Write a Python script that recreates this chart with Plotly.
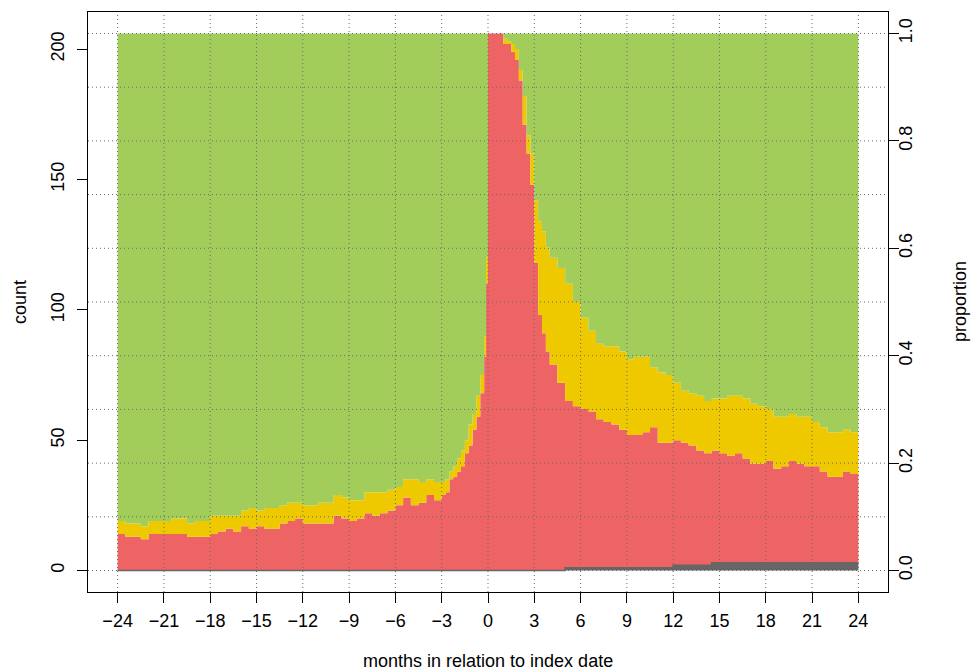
import plotly.graph_objects as go

# months relative to index date (left edge of each step)
months = [-24, -23.5, -23, -22.5, -22, -21.5, -21, -20.5, -20, -19.5, -19, -18.5, -18, -17.5,
          -17, -16.5, -16, -15.5, -15, -14.5, -14, -13.5, -13, -12.5, -12, -11.5, -11, -10.5,
          -10, -9.5, -9, -8.5, -8, -7.5, -7, -6.5, -6, -5.5, -5, -4.5, -4, -3.5, -3,
          -2.75, -2.5, -2.25, -2, -1.75, -1.5, -1.25, -1, -0.75, -0.5, -0.25, -0.125,
          0, 0.25, 0.5, 0.75, 1, 1.25, 1.5, 1.75, 2, 2.25, 2.5, 2.75, 3, 3.25, 3.5, 3.75, 4,
          4.5, 5, 5.5, 6, 6.5, 7, 7.5, 8, 8.5, 9, 9.5, 10, 10.5, 11, 11.5, 12, 12.5, 13, 13.5,
          14, 14.5, 15, 15.5, 16, 16.5, 17, 17.5, 18, 18.5, 19, 19.5, 20, 20.5, 21, 21.5, 22,
          22.5, 23, 23.5, 24]

state_gray = [0, 0, 0, 0, 0, 0, 0, 0, 0, 0, 0, 0, 0, 0, 0, 0, 0, 0, 0, 0, 0, 0, 0, 0,
              0, 0, 0, 0, 0, 0, 0, 0, 0, 0, 0, 0, 0, 0, 0, 0, 0, 0, 0, 0, 0, 0, 0, 0, 0, 0,
              0, 0, 0, 0, 0, 0, 0, 0, 0, 0, 0, 0, 0, 0, 0, 0, 0, 0, 0, 0, 0, 0, 0,
              1, 1, 1, 1, 1, 1, 1, 1, 1, 1, 1, 1, 1, 1,
              2, 2, 2, 2, 2,
              3, 3, 3, 3, 3, 3, 3, 3, 3, 3, 3, 3, 3, 3, 3, 3, 3, 3, 3, 3]

state_red = [14, 13, 13, 12, 14, 14, 14, 14, 14, 13, 13, 13, 14, 15, 16, 15, 17, 16, 17, 16,
             16, 18, 19, 20, 18, 18, 18, 18, 21, 20, 19, 20, 22, 21, 22, 23, 25, 28, 25, 26,
             29, 27, 29,
             30, 35, 36, 38, 40, 45, 48, 54, 59, 68, 82, 110,
             206, 206, 206, 206, 202, 202, 199, 196, 188, 171, 160, 148, 118, 98, 91, 84, 79,
             72, 64, 62, 61, 60, 57, 56, 55, 53, 51, 51, 52, 54, 48, 48, 48, 47, 46, 44, 43,
             43, 42, 41, 42, 40, 38, 38, 39, 36, 37, 39, 38, 37, 37, 35, 33, 33, 35, 34, 34]

state_yellow = [5, 5, 5, 5, 5, 5, 5, 6, 6, 5, 6, 6, 7, 6, 5, 6, 6, 8, 6, 8,
                8, 7, 7, 6, 7, 7, 8, 8, 8, 8, 8, 7, 8, 9, 8, 8, 7, 7, 10, 8,
                6, 7, 5,
                5, 3, 4, 5, 6, 5, 8, 6, 8, 7, 8, 10,
                0, 0, 0, 0, 2, 1, 3, 4, 4, 11, 7, 12, 24, 36, 39, 40, 41,
                44, 45, 40, 35, 31, 29, 29, 30, 30, 29, 30, 29, 23, 27, 26, 22, 20, 20, 21, 20,
                20, 21, 23, 22, 23, 23, 22, 20, 20, 19, 18, 18, 19, 17, 17, 17, 17, 16, 16, 16]

state_green = [187, 188, 188, 189, 187, 187, 187, 186, 186, 188, 187, 187, 185, 185, 185, 185,
               183, 182, 183, 182, 182, 181, 180, 180, 181, 181, 180, 180, 177, 178, 179, 179,
               176, 176, 176, 175, 174, 171, 171, 172, 171, 172, 172,
               171, 168, 166, 163, 160, 156, 150, 146, 139, 131, 116, 86,
               0, 0, 0, 0, 2, 3, 4, 6, 14, 24, 39, 46, 64, 72, 76, 82, 86,
               90, 96, 103, 109, 114, 119, 120, 120, 122, 125, 124, 124, 128, 130, 131, 134,
               137, 138, 139, 141, 140, 140, 139, 139, 140, 142, 143, 144, 147, 147, 146, 147,
               147, 149, 151, 153, 153, 152, 153, 153]

x_ticks = [-24, -21, -18, -15, -12, -9, -6, -3, 0, 3, 6, 9, 12, 15, 18, 21, 24]
count_ticks = [0, 50, 100, 150, 200]
prop_ticks = [0.0, 0.2, 0.4, 0.6, 0.8, 1.0]
prop_grid = [0.0, 0.1, 0.2, 0.3, 0.4, 0.5, 0.6, 0.7, 0.8, 0.9, 1.0]
N_TOTAL = 206

FONT = "Liberation Sans, Arial, Helvetica, sans-serif"
FS = 18

series = [
    (state_gray, "#666666", 1.6),
    (state_red, "#EE6363", 0),
    (state_yellow, "#EEC900", 0),
    (state_green, "#A2CD5A", 0),
]

fig = go.Figure()
for vals, col, lw in series:
    fig.add_trace(go.Scatter(
        x=months, y=vals, stackgroup="s", mode="lines",
        line=dict(width=lw, shape="hv", color=col),
        fillcolor=col, hoverinfo="skip", showlegend=False))

# invisible trace to anchor the proportion axis
fig.add_trace(go.Scatter(x=[months[0]], y=[0], yaxis="y2", mode="markers",
                         marker=dict(opacity=0), hoverinfo="skip", showlegend=False))

shapes = []
grid_line = dict(color="#6a6a6a", width=1, dash="1px,3px")
for v in x_ticks:
    shapes.append(dict(type="line", xref="x", yref="paper", x0=v, x1=v, y0=0, y1=1,
                       line=grid_line, layer="above"))
for p in prop_grid:
    shapes.append(dict(type="line", xref="paper", yref="y2", x0=0, x1=1, y0=p, y1=p,
                       line=grid_line, layer="above"))

xpad = (x_ticks[-1] - x_ticks[0]) * 0.04
ypad = N_TOTAL * 0.04


def minus(v):
    s = str(v)
    return s.replace("-", "\u2212")


fig.update_layout(
    width=979, height=670,
    # the page body adds an 8px offset, so the margins are reduced accordingly
    margin=dict(l=80, r=99, t=4, b=86),
    paper_bgcolor="white", plot_bgcolor="white",
    font=dict(family=FONT, size=FS, color="black"),
    showlegend=False,
    shapes=shapes,
    xaxis=dict(range=[x_ticks[0] - xpad, x_ticks[-1] + xpad],
               tickvals=x_ticks, ticktext=[minus(v) for v in x_ticks],
               ticks="outside", ticklen=10, tickcolor="black", tickwidth=1,
               ticklabelstandoff=2,
               showline=True, mirror=True, linecolor="black", linewidth=1,
               showgrid=False, zeroline=False),
    yaxis=dict(range=[-ypad, N_TOTAL + ypad],
               tickvals=count_ticks, ticktext=[str(v) for v in count_ticks],
               tickangle=-90, ticklabelstandoff=6,
               ticks="outside", ticklen=10, tickcolor="black", tickwidth=1,
               showline=True, mirror=True, linecolor="black", linewidth=1,
               showgrid=False, zeroline=False),
    yaxis2=dict(overlaying="y", side="right",
                range=[-ypad / N_TOTAL, 1 + ypad / N_TOTAL],
                tickvals=prop_ticks, ticktext=[f"{v:.1f}" for v in prop_ticks],
                tickangle=-90, ticklabelstandoff=-9,
                ticks="outside", ticklen=10, tickcolor="black", tickwidth=1,
                showline=False, showgrid=False, zeroline=False),
    annotations=[
        dict(text="months in relation to index date", xref="paper", yref="paper",
             x=0.5, y=-0.119, xanchor="center", yanchor="middle", showarrow=False,
             font=dict(size=FS)),
        dict(text="count", xref="paper", yref="paper", x=-0.085, y=0.5,
             xanchor="center", yanchor="middle", textangle=-90, showarrow=False,
             font=dict(size=FS)),
        dict(text="proportion", xref="paper", yref="paper", x=1.09, y=0.5,
             xanchor="center", yanchor="middle", textangle=-90, showarrow=False,
             font=dict(size=FS)),
    ],
)

fig.write_html("out.html", config={"displayModeBar": False})
